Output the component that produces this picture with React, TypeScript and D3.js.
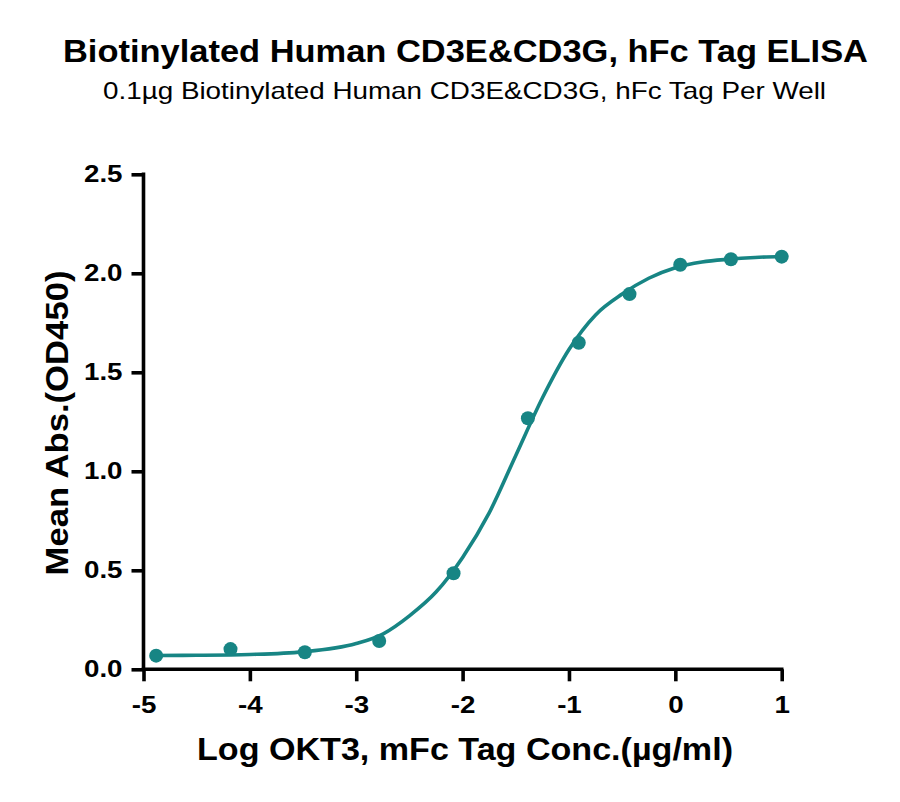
import React, { useRef, useEffect } from 'react';
import * as d3 from 'd3';

// Log concentration (µg/ml) and mean absorbance
const logConc = [-4.881, -4.182, -3.483, -2.784, -2.085, -1.386, -0.908, -0.431, 0.046, 0.523, 1.0];
const meanAbs = [0.069, 0.102, 0.086, 0.143, 0.485, 1.268, 1.649, 1.895, 2.043, 2.071, 2.084];

// Fitted curve
const fitX = [-4.881, -4.5, -4.0, -3.5, -3.0, -2.75, -2.5, -2.25, -2.0, -1.75, -1.5, -1.25, -1.0, -0.75, -0.5, -0.25, 0, 0.25, 0.5, 0.75, 1.0];
const fitY = [0.070, 0.071, 0.075, 0.088, 0.130, 0.178, 0.27, 0.39, 0.565, 0.79, 1.08, 1.37, 1.615, 1.79, 1.895, 1.975, 2.028, 2.057, 2.071, 2.080, 2.085];

const xTicks = [-5, -4, -3, -2, -1, 0, 1];
const yTicks = [0, 0.5, 1.0, 1.5, 2.0, 2.5];

const title = 'Biotinylated Human CD3E&CD3G, hFc Tag ELISA';
const subtitle = '0.1µg Biotinylated Human CD3E&CD3G, hFc Tag Per Well';
const xLabel = 'Log OKT3, mFc Tag Conc.(µg/ml)';
const yLabel = 'Mean Abs.(OD450)';

const TEAL = '#178584';

const App: React.FC = () => {
  const svgRef = useRef<SVGSVGElement>(null);

  useEffect(() => {
    if (!svgRef.current) return;
    const svg = d3.select(svgRef.current);
    svg.selectAll('*').remove();

    const left = 143.5, right = 781.7, top = 174.3, bottom = 669.3;
    const x = d3.scaleLinear().domain([-5, 1]).range([left, right]);
    const y = d3.scaleLinear().domain([0, 2.5]).range([bottom, top]);
    const font = 'Arial, "Liberation Sans", sans-serif';

    // the original lettering is a little wider than Arial
    const widen = (sel: d3.Selection<SVGTextElement, any, any, any>, f: number) => {
      sel.each(function () {
        const w = this.getComputedTextLength();
        d3.select(this).attr('textLength', w * f).attr('lengthAdjust', 'spacingAndGlyphs');
      });
    };

    const addText = (tx: number, ty: number, str: string, size: number, bold: boolean, len: number, rot = 0) =>
      svg.append('text')
        .attr('transform', `translate(${tx},${ty}) rotate(${rot})`)
        .attr('text-anchor', 'middle')
        .attr('textLength', len)
        .attr('lengthAdjust', 'spacingAndGlyphs')
        .style('font-family', font)
        .style('font-weight', bold ? 'bold' : 'normal')
        .style('font-size', `${size}px`)
        .text(str);

    addText(465.5, 62, title, 31, true, 805);
    addText(464.5, 99, subtitle, 24, false, 723);

    // axes
    const xAxis = svg.append('g')
      .attr('transform', `translate(0,${bottom})`)
      .call(d3.axisBottom(x).tickValues(xTicks).tickSize(12).tickSizeOuter(0).tickPadding(15)
        .tickFormat(d => String(d)));
    const yAxis = svg.append('g')
      .attr('transform', `translate(${left},0)`)
      .call(d3.axisLeft(y).tickValues(yTicks).tickSize(12).tickSizeOuter(0).tickPadding(9)
        .tickFormat(d3.format('.1f')));

    [xAxis, yAxis].forEach(g => {
      g.selectAll('path, line').attr('stroke', '#000').attr('stroke-width', 3.6);
      g.selectAll<SVGTextElement, any>('text')
        .attr('fill', '#000')
        .style('font-family', font).style('font-weight', 'bold').style('font-size', '23.5px')
        .call(widen, 1.18);
    });
    xAxis.select('path').attr('d', `M${left - 1.8},0H${right + 1.8}`);
    yAxis.select('path').attr('d', `M0,${bottom + 1.8}V${top - 1.8}`);

    // curve
    const line = d3.line<number>()
      .x((d, i) => x(fitX[i]))
      .y(d => y(d))
      .curve(d3.curveMonotoneX);
    svg.append('path')
      .datum(fitY)
      .attr('fill', 'none')
      .attr('stroke', TEAL)
      .attr('stroke-width', 3.6)
      .attr('d', line);

    svg.selectAll('circle.pt')
      .data(meanAbs)
      .enter()
      .append('circle')
      .attr('class', 'pt')
      .attr('cx', (d, i) => x(logConc[i]))
      .attr('cy', d => y(d))
      .attr('r', 7)
      .attr('fill', TEAL);

    addText(465, 760, xLabel, 31, true, 536);
    addText(68, 423, yLabel, 31, true, 305, -90);
  }, []);

  return (
    <svg
      ref={svgRef}
      width={900}
      height={802}
      style={{ position: 'absolute', left: 0, top: 0, background: '#fff' }}
    />
  );
};

export default App;
